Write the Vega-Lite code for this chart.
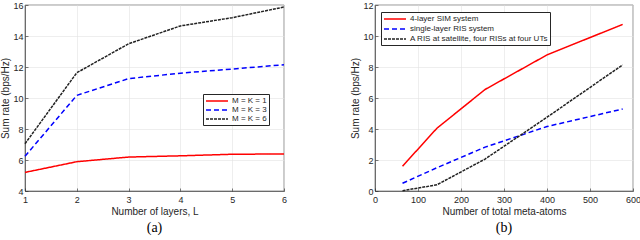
{
  "$schema": "https://vega.github.io/schema/vega-lite/v6.json",
  "padding": {"left": 0, "top": 0, "right": 0, "bottom": 0},
  "background": "white",
  "spacing": 62,
  "config": {
    "view": {"stroke": "#262626", "strokeWidth": 0.6},
    "font": "Liberation Sans",
    "axis": {
      "labelFont": "Liberation Sans", "labelFontSize": 9, "labelColor": "#262626",
      "titleFont": "Liberation Sans", "titleFontSize": 10, "titleFontWeight": "normal", "titleColor": "#262626",
      "gridColor": "#e3e3e3", "gridWidth": 0.6,
      "domainColor": "#262626", "domainWidth": 0.6,
      "tickColor": "#262626", "tickSize": -3, "tickWidth": 0.6,
      "labelFlush": false, "labelOverlap": false
    },
    "axisX": {"labelPadding": 7, "titlePadding": 2},
    "axisY": {"labelPadding": 5, "titlePadding": 2},
    "legend": {
      "orient": "none", "fillColor": "white", "strokeColor": "#262626", "padding": 2,
      "labelFont": "Liberation Sans", "labelFontSize": 8, "labelColor": "#262626",
      "symbolType": "M-1,0H4.5", "symbolSize": 64, "rowPadding": 0, "labelOffset": 17
    },
    "title": {"font": "Liberation Serif", "fontSize": 14, "fontWeight": "normal", "color": "#000000", "orient": "bottom", "offset": 5}
  },
  "hconcat": [
    {
      "width": 259, "height": 186,
      "title": "(a)",
      "data": {"values": [
        {"L": 1, "rate": 5.2, "s": "M = K = 1"},
        {"L": 2, "rate": 5.89, "s": "M = K = 1"},
        {"L": 3, "rate": 6.19, "s": "M = K = 1"},
        {"L": 4, "rate": 6.27, "s": "M = K = 1"},
        {"L": 5, "rate": 6.37, "s": "M = K = 1"},
        {"L": 6, "rate": 6.39, "s": "M = K = 1"},
        {"L": 1, "rate": 6.24, "s": "M = K = 3"},
        {"L": 2, "rate": 10.17, "s": "M = K = 3"},
        {"L": 3, "rate": 11.25, "s": "M = K = 3"},
        {"L": 4, "rate": 11.6, "s": "M = K = 3"},
        {"L": 5, "rate": 11.87, "s": "M = K = 3"},
        {"L": 6, "rate": 12.15, "s": "M = K = 3"},
        {"L": 1, "rate": 7.05, "s": "M = K = 6"},
        {"L": 2, "rate": 11.63, "s": "M = K = 6"},
        {"L": 3, "rate": 13.5, "s": "M = K = 6"},
        {"L": 4, "rate": 14.65, "s": "M = K = 6"},
        {"L": 5, "rate": 15.18, "s": "M = K = 6"},
        {"L": 6, "rate": 15.87, "s": "M = K = 6"}
      ]},
      "mark": {"type": "line"},
      "encoding": {
        "x": {"field": "L", "type": "quantitative", "scale": {"domain": [1, 6], "nice": false},
              "axis": {"values": [1, 2, 3, 4, 5, 6], "title": "Number of layers, L"}},
        "y": {"field": "rate", "type": "quantitative", "scale": {"domain": [4, 16], "nice": false},
              "axis": {"values": [4, 6, 8, 10, 12, 14, 16], "title": "Sum rate (bps/Hz)"}},
        "color": {"field": "s", "type": "nominal", "sort": null,
                  "scale": {"domain": ["M = K = 1", "M = K = 3", "M = K = 6"], "range": ["#ff0000", "#0000ff", "#222222"]},
                  "legend": {"title": null, "legendX": 178, "legendY": 89}},
        "strokeDash": {"field": "s", "type": "nominal", "sort": null,
                  "scale": {"domain": ["M = K = 1", "M = K = 3", "M = K = 6"], "range": [[1, 0], [5, 3], [3, 1]]},
                  "legend": {"title": null, "legendX": 178, "legendY": 89}},
        "strokeWidth": {"field": "s", "type": "nominal", "sort": null,
                  "scale": {"domain": ["M = K = 1", "M = K = 3", "M = K = 6"], "range": [1.5, 1.5, 0.8]},
                  "legend": {"title": null, "legendX": 178, "legendY": 89}}
      }
    },
    {
      "width": 258, "height": 186,
      "title": "(b)",
      "data": {"values": [
        {"n": 64, "rate": 1.6, "s": "4-layer SIM system"},
        {"n": 144, "rate": 4.05, "s": "4-layer SIM system"},
        {"n": 256, "rate": 6.55, "s": "4-layer SIM system"},
        {"n": 400, "rate": 8.78, "s": "4-layer SIM system"},
        {"n": 576, "rate": 10.75, "s": "4-layer SIM system"},
        {"n": 64, "rate": 0.5, "s": "single-layer RIS system"},
        {"n": 144, "rate": 1.5, "s": "single-layer RIS system"},
        {"n": 256, "rate": 2.83, "s": "single-layer RIS system"},
        {"n": 400, "rate": 4.16, "s": "single-layer RIS system"},
        {"n": 576, "rate": 5.29, "s": "single-layer RIS system"},
        {"n": 64, "rate": 0.02, "s": "A RIS at satellite, four RISs at four UTs"},
        {"n": 144, "rate": 0.4, "s": "A RIS at satellite, four RISs at four UTs"},
        {"n": 256, "rate": 2.06, "s": "A RIS at satellite, four RISs at four UTs"},
        {"n": 400, "rate": 4.76, "s": "A RIS at satellite, four RISs at four UTs"},
        {"n": 576, "rate": 8.14, "s": "A RIS at satellite, four RISs at four UTs"}
      ]},
      "mark": {"type": "line"},
      "encoding": {
        "x": {"field": "n", "type": "quantitative", "scale": {"domain": [0, 600], "nice": false},
              "axis": {"values": [0, 100, 200, 300, 400, 500, 600], "title": "Number of total meta-atoms"}},
        "y": {"field": "rate", "type": "quantitative", "scale": {"domain": [0, 12], "nice": false},
              "axis": {"values": [0, 2, 4, 6, 8, 10, 12], "title": "Sum rate (bps/Hz)"}},
        "color": {"field": "s", "type": "nominal", "sort": null,
                  "scale": {"domain": ["4-layer SIM system", "single-layer RIS system", "A RIS at satellite, four RISs at four UTs"], "range": ["#ff0000", "#0000ff", "#222222"]},
                  "legend": {"title": null, "legendX": 6, "legendY": 7, "rowPadding": 1}},
        "strokeDash": {"field": "s", "type": "nominal", "sort": null,
                  "scale": {"domain": ["4-layer SIM system", "single-layer RIS system", "A RIS at satellite, four RISs at four UTs"], "range": [[1, 0], [5, 3], [3, 1]]},
                  "legend": {"title": null, "legendX": 6, "legendY": 7, "rowPadding": 1}},
        "strokeWidth": {"field": "s", "type": "nominal", "sort": null,
                  "scale": {"domain": ["4-layer SIM system", "single-layer RIS system", "A RIS at satellite, four RISs at four UTs"], "range": [1.5, 1.5, 0.8]},
                  "legend": {"title": null, "legendX": 6, "legendY": 7, "rowPadding": 1}}
      }
    }
  ],
  "resolve": {"scale": {"color": "independent", "strokeDash": "independent", "strokeWidth": "independent"}, "legend": {"color": "independent", "strokeDash": "independent", "strokeWidth": "independent"}}
}
